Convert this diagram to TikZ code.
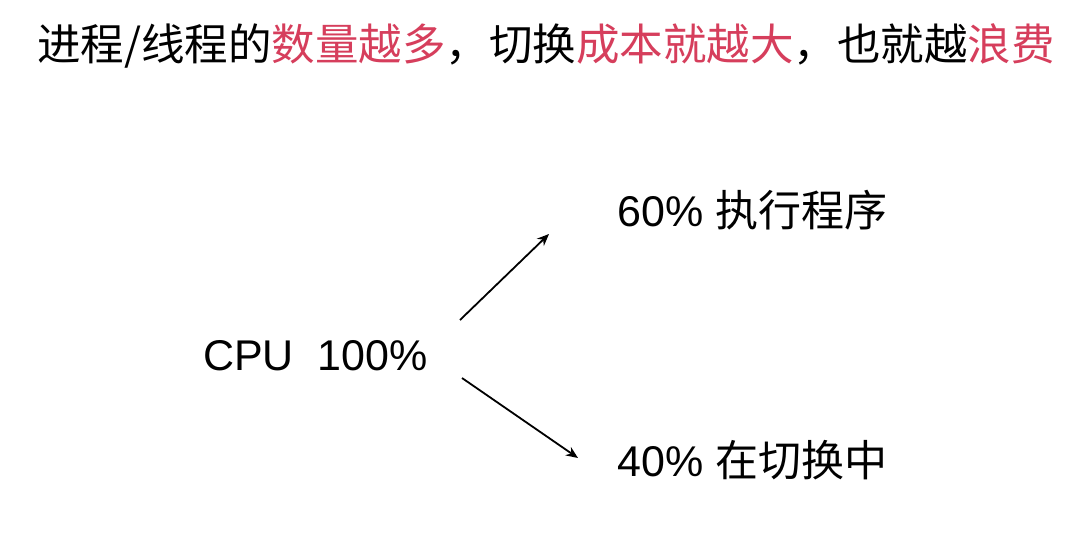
\documentclass[tikz,border=0pt]{standalone}
\usepackage{fontspec}
\setmainfont{Liberation Sans}
\newfontfamily\cjk{Noto Sans CJK SC}
\usetikzlibrary{arrows.meta}
\definecolor{hl}{RGB}{214,62,92}
\tikzset{
  lbl/.style={inner sep=0pt, anchor=west, font=\fontsize{43}{50}\selectfont},
  title/.style={inner sep=0pt, font=\cjk\fontsize{43.5}{50}\selectfont},
  arr/.style={line width=1.8pt, -{Stealth[length=12pt,width=10pt]}}
}
\begin{document}
\begin{tikzpicture}[x=1pt,y=-1pt]
\useasboundingbox[fill=white] (0,0) rectangle (1078,534);
\node[title] (t) at (546,46) {进程/线程的\textcolor{hl}{数量越多}，切换\textcolor{hl}{成本就越大}，也就越\textcolor{hl}{浪费}};
\node[lbl] (cpu) at (203,356) {CPU\ \ 100\%};
\node[lbl] (run) at (617,210) {60\% {\cjk 执行程序}};
\node[lbl] (sw) at (617,460) {40\% {\cjk 在切换中}};
\coordinate (u0) at (460,320);
\coordinate (u1) at (549,234);
\coordinate (d0) at (462,378);
\coordinate (d1) at (578,458);
\draw[arr] (u0) -- (u1);
\draw[arr] (d0) -- (d1);
\end{tikzpicture}
\end{document}
